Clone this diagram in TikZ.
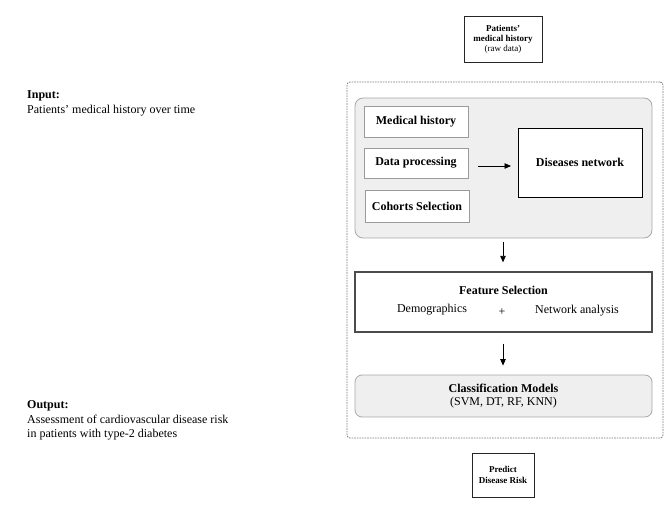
\documentclass[tikz,border=0pt]{standalone}
\usepackage{fontspec}
\setmainfont{Liberation Serif}
\usetikzlibrary{arrows.meta}
\definecolor{panelfill}{HTML}{EFEFEF}
\definecolor{panelline}{HTML}{A8A8A8}
\definecolor{boxline}{HTML}{9A9A9A}
\definecolor{dashline}{HTML}{7A7A7A}
\tikzset{
  big/.style={font=\fontsize{12}{14}\selectfont},
  small/.style={font=\fontsize{9}{10}\selectfont},
  panel/.style={draw=panelline, fill=panelfill, line width=0.8pt, rounded corners=8pt, inner sep=0pt},
  stepbox/.style={draw=boxline, fill=white, line width=0.8pt, inner sep=0pt, big, font=\fontsize{12}{14}\selectfont\bfseries},
  endbox/.style={draw=black!85, fill=white, line width=0.9pt, inner sep=0pt, align=center},
  flow/.style={-{Triangle[length=6.5pt,width=5.5pt]}, line width=0.8pt, black},
  lefttext/.style={anchor=base west, inner sep=0pt, big},
}
\begin{document}
\begin{tikzpicture}[x=1pt, y=-1pt]
\useasboundingbox (0,0) rectangle (672,505);

% left texts
\node[lefttext, font=\fontsize{12}{14}\selectfont\bfseries] (in1) at (27,99) {Input:};
\node[lefttext] (in2) at (27,114) {Patients’ medical history over time};
\node[lefttext, font=\fontsize{12}{14}\selectfont\bfseries] (out1) at (27,408) {Output:};
\node[lefttext] (out2) at (27,423) {Assessment of cardiovascular disease risk};
\node[lefttext] (out3) at (27,437) {in patients with type-2 diabetes};

% top input box
\node[endbox, minimum width=78pt, minimum height=46pt, font=\fontsize{9}{10}\selectfont] (raw) at (503,39)
  {\textbf{Patients’}\\\textbf{medical history}\\(raw data)};

% outer dashed frame
\node[draw=dashline, line width=0.7pt, dash pattern=on 1.6pt off 1pt, rounded corners=3pt,
      minimum width=316pt, minimum height=356pt, inner sep=0pt] (outer) at (505,260) {};

% gray panel
\node[panel, minimum width=297pt, minimum height=140pt] (panel) at (503.5,168) {};
\node[stepbox, minimum width=104pt, minimum height=31pt] (med) at (416,121.5) {Medical history};
\node[stepbox, minimum width=104pt, minimum height=30pt] (dp) at (416,163) {Data processing};
\node[stepbox, minimum width=104pt, minimum height=32pt] (coh) at (417,206) {Cohorts Selection};
\node[draw=black, fill=white, line width=0.9pt, minimum width=124pt, minimum height=69pt, inner sep=0pt,
      font=\fontsize{12}{14}\selectfont\bfseries] (dn) at (580,162.5) {Diseases network};
\coordinate (a1s) at (478,166);
\coordinate (a1e) at (511,166);
\draw[flow] (a1s) -- (a1e);

% feature selection
\node[draw=black!70, fill=white, line width=1.3pt, minimum width=297pt, minimum height=60pt, inner sep=0pt] (fs) at (503.5,302) {};
\node[big, font=\fontsize{12}{14}\selectfont\bfseries, inner sep=0pt] (fst) at (503.5,290) {Feature Selection};
\node[big, inner sep=0pt] (demo) at (432,310) {Demographics};
\node[big, inner sep=0pt] (plus) at (502,312) {+};
\node[big, inner sep=0pt] (neta) at (577,311) {Network analysis};

\draw[flow, shorten <=4pt, shorten >=9pt] (panel.south -| 503,0) -- (fs.north -| 503,0);

% classification
\node[panel, rounded corners=7pt, minimum width=297pt, minimum height=42pt, align=center,
      font=\fontsize{12}{13.5}\selectfont] (cls) at (503.5,396)
  {\textbf{Classification Models}\\(SVM, DT, RF, KNN)};
\draw[flow, shorten <=11pt, shorten >=9pt] (fs.south -| 503,0) -- (cls.north -| 503,0);

% output box
\node[endbox, minimum width=62pt, minimum height=44pt, font=\fontsize{9}{11}\selectfont\bfseries] (pred) at (503,475)
  {Predict\\Disease Risk};
\end{tikzpicture}
\end{document}
